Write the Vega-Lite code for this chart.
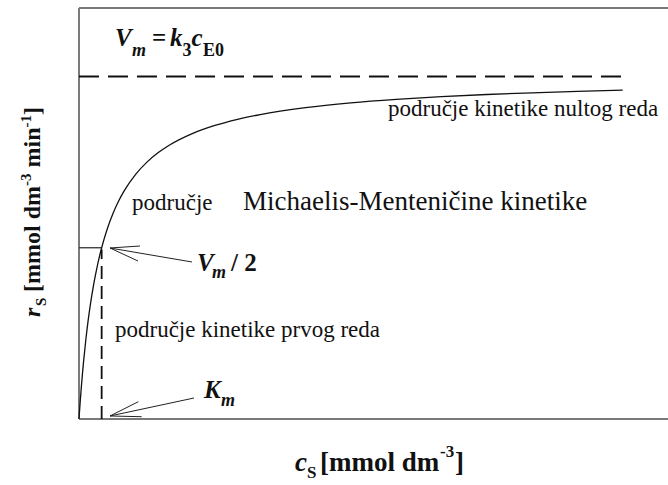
{
  "$schema": "https://vega.github.io/schema/vega-lite/v6.json",
  "width": 589,
  "height": 411,
  "autosize": "none",
  "padding": {"left": 79, "top": 8, "right": 0, "bottom": 66},
  "background": "white",
  "config": {"view": {"stroke": null}},
  "datasets": {
    "curve": [
      {"x": 0, "y": 0}, {"x": 0.02, "y": 0.0196}, {"x": 0.05, "y": 0.0476}, {"x": 0.1, "y": 0.0909},
      {"x": 0.15, "y": 0.1304}, {"x": 0.2, "y": 0.1667}, {"x": 0.3, "y": 0.2308}, {"x": 0.4, "y": 0.2857},
      {"x": 0.5, "y": 0.3333}, {"x": 0.65, "y": 0.3939}, {"x": 0.8, "y": 0.4444}, {"x": 1, "y": 0.5},
      {"x": 1.25, "y": 0.5556}, {"x": 1.5, "y": 0.6}, {"x": 1.75, "y": 0.6364}, {"x": 2, "y": 0.6667},
      {"x": 2.5, "y": 0.7143}, {"x": 3, "y": 0.75}, {"x": 3.5, "y": 0.7778}, {"x": 4, "y": 0.8},
      {"x": 5, "y": 0.8333}, {"x": 6, "y": 0.8571}, {"x": 7, "y": 0.875}, {"x": 8, "y": 0.8889},
      {"x": 10, "y": 0.9091}, {"x": 12, "y": 0.9231}, {"x": 14, "y": 0.9333}, {"x": 16, "y": 0.9412},
      {"x": 18, "y": 0.9474}, {"x": 20, "y": 0.9524}, {"x": 22, "y": 0.9565}, {"x": 24, "y": 0.96}
    ],
    "frame": [
      {"x": 0, "y": 0, "x2": 0, "y2": 1.2},
      {"x": 0, "y": 0, "x2": 26, "y2": 0},
      {"x": 0, "y": 1.2, "x2": 26, "y2": 1.2}
    ],
    "vmline": [{"x": 0, "y": 1, "x2": 24.2, "y2": 1}],
    "kmline": [{"x": 1, "y": 0, "x2": 1, "y2": 0.495}],
    "halfline": [{"x": 0, "y": 0.5, "x2": 1, "y2": 0.5}],
    "arrows": [
      {"x": 1.368, "y": 0.4993, "x2": 4.988, "y2": 0.4584},
      {"x": 1.368, "y": 0.4993, "x2": 2.693, "y2": 0.5051},
      {"x": 1.368, "y": 0.4993, "x2": 2.604, "y2": 0.4613},
      {"x": 1.368, "y": 0.0088, "x2": 5.076, "y2": 0.0613},
      {"x": 1.368, "y": 0.0088, "x2": 2.618, "y2": 0.0505},
      {"x": 1.368, "y": 0.0088, "x2": 2.767, "y2": 0.0067}
    ],
    "labels": [
      {"t": "V", "x": 1.589, "y": 1.089, "g": "bi"},
      {"t": "m", "x": 2.34, "y": 1.0613, "g": "bisub"},
      {"t": "=", "x": 3.222, "y": 1.089, "g": "b"},
      {"t": "k", "x": 4.017, "y": 1.089, "g": "bi"},
      {"t": "3", "x": 4.569, "y": 1.0613, "g": "bsub"},
      {"t": "c", "x": 4.966, "y": 1.089, "g": "bi"},
      {"t": "E0", "x": 5.474, "y": 1.0613, "g": "bsub"},
      {"t": "V", "x": 5.209, "y": 0.4321, "g": "bi"},
      {"t": "m", "x": 5.871, "y": 0.4117, "g": "bisub"},
      {"t": "/ 2", "x": 6.71, "y": 0.4321, "g": "b"},
      {"t": "K", "x": 5.518, "y": 0.0613, "g": "bi"},
      {"t": "m", "x": 6.268, "y": 0.038, "g": "bisub"},
      {"t": "područje", "x": 2.34, "y": 0.61, "g": "reg"},
      {"t": "Michaelis-Menteničine kinetike", "x": 7.239, "y": 0.61, "g": "reg2"},
      {"t": "područje kinetike nultog reda", "x": 13.64, "y": 0.885, "g": "reg"},
      {"t": "područje kinetike prvog reda", "x": 1.589, "y": 0.2394, "g": "reg"},
      {"t": "c", "x": 9.535, "y": -0.1518, "g": "axbi"},
      {"t": "S", "x": 10.064, "y": -0.1723, "g": "axsub"},
      {"t": "[mmol dm", "x": 10.638, "y": -0.1518, "g": "axb"},
      {"t": "-3", "x": 15.935, "y": -0.1124, "g": "axsub"},
      {"t": "]", "x": 16.597, "y": -0.1518, "g": "axb"},
      {"t": "r", "x": -1.722, "y": 0.2978, "g": "ybi"},
      {"t": "S", "x": -1.457, "y": 0.33, "g": "ysub"},
      {"t": "[mmol dm", "x": -1.722, "y": 0.3708, "g": "yb"},
      {"t": "-3", "x": -2.119, "y": 0.6803, "g": "ysub"},
      {"t": "min", "x": -1.722, "y": 0.7343, "g": "yb"},
      {"t": "-1", "x": -2.119, "y": 0.851, "g": "ysub"},
      {"t": "]", "x": -1.722, "y": 0.8876, "g": "yb"}
    ]
  },
  "encoding": {
    "x": {"field": "x", "type": "quantitative", "scale": {"domain": [0, 26], "nice": false, "zero": false}, "axis": null},
    "y": {"field": "y", "type": "quantitative", "scale": {"domain": [0, 1.2], "nice": false, "zero": false}, "axis": null}
  },
  "layer": [
    {"data": {"name": "frame"}, "mark": {"type": "rule", "color": "#7a7a7a", "strokeWidth": 2}, "encoding": {"x2": {"field": "x2"}, "y2": {"field": "y2"}}},
    {"data": {"name": "vmline"}, "mark": {"type": "rule", "color": "#111", "strokeWidth": 1.8, "strokeDash": [20, 9]}, "encoding": {"x2": {"field": "x2"}, "y2": {"field": "y2"}}},
    {"data": {"name": "kmline"}, "mark": {"type": "rule", "color": "#111", "strokeWidth": 1.8, "strokeDash": [13, 7]}, "encoding": {"x2": {"field": "x2"}, "y2": {"field": "y2"}}},
    {"data": {"name": "halfline"}, "mark": {"type": "rule", "color": "#333", "strokeWidth": 1.3}, "encoding": {"x2": {"field": "x2"}, "y2": {"field": "y2"}}},
    {"data": {"name": "arrows"}, "mark": {"type": "rule", "color": "#222", "strokeWidth": 1}, "encoding": {"x2": {"field": "x2"}, "y2": {"field": "y2"}}},
    {"data": {"name": "curve"}, "mark": {"type": "line", "color": "#111", "strokeWidth": 1.3, "interpolate": "monotone"}, "encoding": {}},
    {"data": {"name": "labels"}, "transform": [{"filter": "datum.g === 'reg'"}], "mark": {"type": "text", "font": "Liberation Serif", "fontSize": 23, "align": "left", "baseline": "alphabetic", "color": "#111"}, "encoding": {"text": {"field": "t"}}},
    {"data": {"name": "labels"}, "transform": [{"filter": "datum.g === 'reg2'"}], "mark": {"type": "text", "font": "Liberation Serif", "fontSize": 27, "align": "left", "baseline": "alphabetic", "color": "#111"}, "encoding": {"text": {"field": "t"}}},
    {"data": {"name": "labels"}, "transform": [{"filter": "datum.g === 'bi'"}], "mark": {"type": "text", "font": "Liberation Serif", "fontSize": 25, "fontWeight": "bold", "fontStyle": "italic", "align": "left", "baseline": "alphabetic", "color": "#111"}, "encoding": {"text": {"field": "t"}}},
    {"data": {"name": "labels"}, "transform": [{"filter": "datum.g === 'bisub'"}], "mark": {"type": "text", "font": "Liberation Serif", "fontSize": 18, "fontWeight": "bold", "fontStyle": "italic", "align": "left", "baseline": "alphabetic", "color": "#111"}, "encoding": {"text": {"field": "t"}}},
    {"data": {"name": "labels"}, "transform": [{"filter": "datum.g === 'b'"}], "mark": {"type": "text", "font": "Liberation Serif", "fontSize": 25, "fontWeight": "bold", "align": "left", "baseline": "alphabetic", "color": "#111"}, "encoding": {"text": {"field": "t"}}},
    {"data": {"name": "labels"}, "transform": [{"filter": "datum.g === 'bsub'"}], "mark": {"type": "text", "font": "Liberation Serif", "fontSize": 18, "fontWeight": "bold", "align": "left", "baseline": "alphabetic", "color": "#111"}, "encoding": {"text": {"field": "t"}}},
    {"data": {"name": "labels"}, "transform": [{"filter": "datum.g === 'axbi'"}], "mark": {"type": "text", "font": "Liberation Serif", "fontSize": 27, "fontWeight": "bold", "fontStyle": "italic", "align": "left", "baseline": "alphabetic", "color": "#111"}, "encoding": {"text": {"field": "t"}}},
    {"data": {"name": "labels"}, "transform": [{"filter": "datum.g === 'axb'"}], "mark": {"type": "text", "font": "Liberation Serif", "fontSize": 27, "fontWeight": "bold", "align": "left", "baseline": "alphabetic", "color": "#111"}, "encoding": {"text": {"field": "t"}}},
    {"data": {"name": "labels"}, "transform": [{"filter": "datum.g === 'axsub'"}], "mark": {"type": "text", "font": "Liberation Serif", "fontSize": 17, "fontWeight": "bold", "align": "left", "baseline": "alphabetic", "color": "#111"}, "encoding": {"text": {"field": "t"}}},
    {"data": {"name": "labels"}, "transform": [{"filter": "datum.g === 'ybi'"}], "mark": {"type": "text", "font": "Liberation Serif", "fontSize": 24, "fontWeight": "bold", "fontStyle": "italic", "angle": 270, "align": "left", "baseline": "alphabetic", "color": "#111"}, "encoding": {"text": {"field": "t"}}},
    {"data": {"name": "labels"}, "transform": [{"filter": "datum.g === 'yb'"}], "mark": {"type": "text", "font": "Liberation Serif", "fontSize": 24, "fontWeight": "bold", "angle": 270, "align": "left", "baseline": "alphabetic", "color": "#111"}, "encoding": {"text": {"field": "t"}}},
    {"data": {"name": "labels"}, "transform": [{"filter": "datum.g === 'ysub'"}], "mark": {"type": "text", "font": "Liberation Serif", "fontSize": 15, "fontWeight": "bold", "angle": 270, "align": "left", "baseline": "alphabetic", "color": "#111"}, "encoding": {"text": {"field": "t"}}}
  ]
}
